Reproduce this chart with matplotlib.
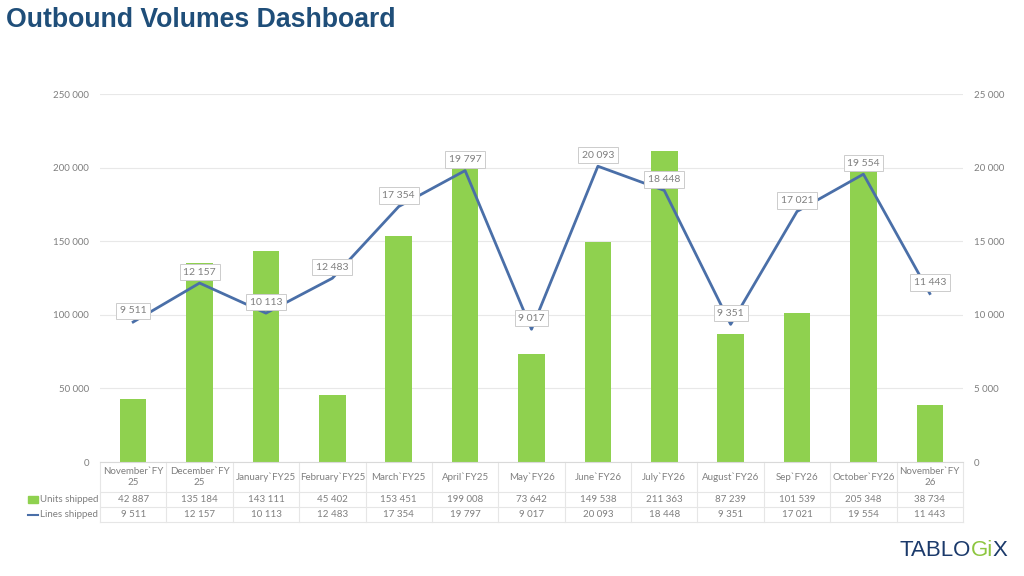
import numpy as np
import matplotlib.pyplot as plt
from matplotlib.ticker import FuncFormatter

months = ["November`FY25", "December`FY25", "January`FY25", "February`FY25",
          "March`FY25", "April`FY25", "May`FY26", "June`FY26", "July`FY26",
          "August`FY26", "Sep`FY26", "October`FY26", "November`FY26"]
header_labels = ["November`FY\n25", "December`FY\n25", "January`FY25", "February`FY25",
                 "March`FY25", "April`FY25", "May`FY26", "June`FY26", "July`FY26",
                 "August`FY26", "Sep`FY26", "October`FY26", "November`FY\n26"]
units_shipped = [42887, 135184, 143111, 45402, 153451, 199008, 73642,
                 149538, 211363, 87239, 101539, 205348, 38734]
lines_shipped = [9511, 12157, 10113, 12483, 17354, 19797, 9017,
                 20093, 18448, 9351, 17021, 19554, 11443]

GREEN = "#8FD14F"
BLUE = "#4A6FA8"
GRAY = "#7F7F7F"
GRID = "#E8E8E8"
FONT = "Lato"
FS = 7


def fmt(v):
    return f"{int(v):,}".replace(",", " ")


fig = plt.figure(figsize=(10.24, 5.76), dpi=100)
W, H = 1024, 576
left, right, top, bottom = 100, 963, 94, 462
ax = fig.add_axes([left / W, 1 - bottom / H, (right - left) / W, (bottom - top) / H])
ax2 = ax.twinx()

x = np.arange(len(months))
ax.bar(x, units_shipped, width=0.4, color=GREEN, zorder=2)
ax.set_ylim(0, 250000)
ax.set_yticks(np.arange(0, 250001, 50000))
ax.yaxis.set_major_formatter(FuncFormatter(lambda v, p: fmt(v)))
ax.set_xlim(-0.5, len(months) - 0.5)
ax.set_xticks([])
ax.grid(axis="y", color=GRID, linewidth=0.8, zorder=0)
ax.set_axisbelow(True)

ax2.plot(x, lines_shipped, color=BLUE, linewidth=2, zorder=3)
ax2.set_ylim(0, 25000)
ax2.set_yticks(np.arange(0, 25001, 5000))
ax2.yaxis.set_major_formatter(FuncFormatter(lambda v, p: fmt(v)))

for a in (ax, ax2):
    for s in a.spines.values():
        s.set_visible(False)
    a.tick_params(axis="y", length=0, labelsize=FS, labelcolor=GRAY, pad=8)
    for lab in a.get_yticklabels():
        lab.set_fontfamily(FONT)
ax.spines["bottom"].set_visible(True)
ax.spines["bottom"].set_color("#D9D9D9")

# data labels on the line
for xi, v in zip(x, lines_shipped):
    ax2.annotate(fmt(v), xy=(xi, v), xytext=(0, 11), textcoords="offset pixels",
                 ha="center", va="center", fontsize=7.5, color=GRAY, family=FONT,
                 bbox=dict(boxstyle="square,pad=0.35", fc="white", ec="#CCCCCC", lw=0.7),
                 zorder=5)

# data table below the plot
trans = ax.get_xaxis_transform()
ph = bottom - top
rows_px = [0, 30, 45, 60]
for xb in np.arange(-0.5, len(months), 1.0):
    ax.plot([xb, xb], [0, -60 / ph], transform=trans, color="#E6E6E6",
            lw=0.8, clip_on=False)
for r in rows_px[1:]:
    ax.plot([-0.5, len(months) - 0.5], [-r / ph, -r / ph], transform=trans,
            color="#E6E6E6", lw=0.8, clip_on=False)

for xi, lab, u, l in zip(x, header_labels, units_shipped, lines_shipped):
    ax.annotate(lab, xy=(xi, 0), xycoords=trans, xytext=(0, -15),
                textcoords="offset pixels", ha="center", va="center",
                fontsize=FS, color=GRAY, family=FONT, linespacing=1.15,
                annotation_clip=False)
    ax.annotate(fmt(u), xy=(xi, 0), xycoords=trans, xytext=(0, -37.5),
                textcoords="offset pixels", ha="center", va="center",
                fontsize=FS, color=GRAY, family=FONT, annotation_clip=False)
    ax.annotate(fmt(l), xy=(xi, 0), xycoords=trans, xytext=(0, -52.5),
                textcoords="offset pixels", ha="center", va="center",
                fontsize=FS, color=GRAY, family=FONT, annotation_clip=False)

# legend keys in the row headers
fig.text(98 / W, 1 - 499.5 / H, "Units shipped", ha="right", va="center",
         fontsize=FS, color=GRAY, family=FONT)
fig.text(98 / W, 1 - 514.5 / H, "Lines shipped", ha="right", va="center",
         fontsize=FS, color=GRAY, family=FONT)
fig.patches.append(plt.Rectangle((28 / W, 1 - 503 / H), 10 / W, 7 / H,
                                 transform=fig.transFigure, color=GREEN))
fig.lines.append(plt.Line2D([28 / W, 38 / W], [1 - 514.5 / H, 1 - 514.5 / H],
                            transform=fig.transFigure, color=BLUE, lw=1.5))

# title
fig.text(6 / W, 1 - 20 / H, "Outbound Volumes Dashboard", ha="left", va="center",
         fontsize=19.2, fontweight="bold", color="#1F4E79", family="Liberation Sans")

# logo, pieces chained one after another
NAVY = "#1B3A6B"
LOGO_GREEN = "#8DC63F"
prev = fig.text(899 / W, 1 - 556 / H, "TABLO", ha="left", va="baseline",
                fontsize=16, color=NAVY, family="Liberation Sans")
for part, col in [("Gi", LOGO_GREEN), ("X", NAVY)]:
    prev = ax.annotate(part, xy=(1, 0), xycoords=prev, ha="left", va="bottom",
                       fontsize=16, color=col, family="Liberation Sans",
                       annotation_clip=False)

fig.savefig("out.png", dpi=100)
